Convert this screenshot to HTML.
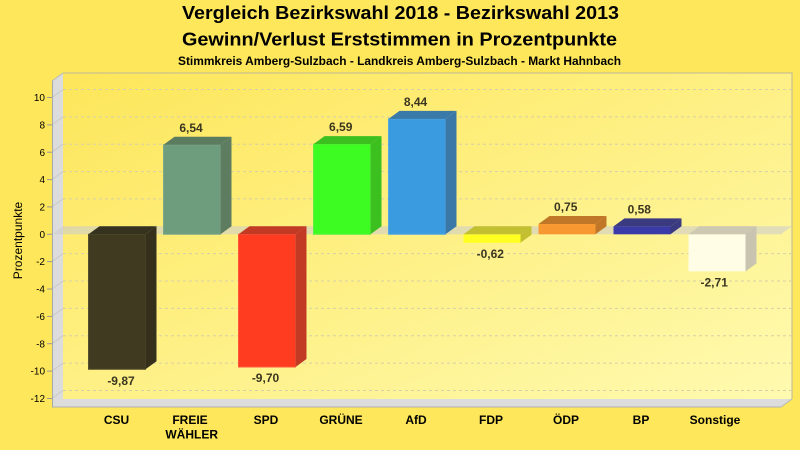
<!DOCTYPE html>
<html><head><meta charset="utf-8"><style>
html,body{margin:0;padding:0;background:#fee75a;}
svg{display:block;font-family:"Liberation Sans",Arial,sans-serif;}
</style></head><body>
<svg width="800" height="450" viewBox="0 0 800 450" xmlns="http://www.w3.org/2000/svg">
<defs>
<linearGradient id="wall" x1="0" y1="0" x2="1" y2="1">
<stop offset="0" stop-color="#fde65a"/>
<stop offset="1" stop-color="#fffab0"/>
</linearGradient>
</defs>
<rect x="0" y="0" width="800" height="450" fill="#fee75a"/>
<!-- titles -->
<text x="400.5" y="19" text-anchor="middle" font-weight="bold" font-size="18.5" textLength="437" lengthAdjust="spacingAndGlyphs" fill="#000">Vergleich Bezirkswahl 2018 - Bezirkswahl 2013</text>
<text x="399.5" y="45.5" text-anchor="middle" font-weight="bold" font-size="18.5" textLength="435" lengthAdjust="spacingAndGlyphs" fill="#000">Gewinn/Verlust Erststimmen in Prozentpunkte</text>
<text x="399.5" y="65" text-anchor="middle" font-weight="bold" font-size="11.5" textLength="443" lengthAdjust="spacingAndGlyphs" fill="#000">Stimmkreis Amberg-Sulzbach - Landkreis Amberg-Sulzbach - Markt Hahnbach</text>

<!-- back wall -->
<rect x="63" y="73" width="729" height="326" fill="url(#wall)"/>
<polyline points="63,73 792,73 792,399" fill="none" stroke="#bdb89a" stroke-width="1"/>
<!-- gridlines on back wall -->
<g stroke="#d6d0a8" stroke-width="1" stroke-dasharray="3,3">
<line x1="63" y1="89.5" x2="792" y2="89.5"/>
<line x1="63" y1="116.9" x2="792" y2="116.9"/>
<line x1="63" y1="144.2" x2="792" y2="144.2"/>
<line x1="63" y1="171.6" x2="792" y2="171.6"/>
<line x1="63" y1="198.9" x2="792" y2="198.9"/>
<line x1="63" y1="253.6" x2="792" y2="253.6"/>
<line x1="63" y1="281.0" x2="792" y2="281.0"/>
<line x1="63" y1="308.4" x2="792" y2="308.4"/>
<line x1="63" y1="335.7" x2="792" y2="335.7"/>
<line x1="63" y1="363.1" x2="792" y2="363.1"/>
<line x1="63" y1="390.5" x2="792" y2="390.5"/>
</g>
<!-- left wall -->
<polygon points="52,81 63,73 63,399 52,407" fill="#dcdcdc"/>
<g stroke="#c8c8c8" stroke-width="1">
<line x1="52" y1="97.5" x2="63" y2="89.5"/>
<line x1="52" y1="124.9" x2="63" y2="116.9"/>
<line x1="52" y1="152.2" x2="63" y2="144.2"/>
<line x1="52" y1="179.6" x2="63" y2="171.6"/>
<line x1="52" y1="206.9" x2="63" y2="198.9"/>
<line x1="52" y1="261.6" x2="63" y2="253.6"/>
<line x1="52" y1="289.0" x2="63" y2="281.0"/>
<line x1="52" y1="316.4" x2="63" y2="308.4"/>
<line x1="52" y1="343.7" x2="63" y2="335.7"/>
<line x1="52" y1="371.1" x2="63" y2="363.1"/>
<line x1="52" y1="398.5" x2="63" y2="390.5"/>
</g>
<line x1="52.5" y1="81" x2="52.5" y2="407" stroke="#a8a8a8" stroke-width="1"/>
<line x1="52" y1="81" x2="63" y2="73" stroke="#b8b8b8" stroke-width="1"/>
<!-- floor -->
<polygon points="52,407 63,399 792,399 781,407" fill="#dcdcdc"/>
<line x1="52" y1="407" x2="781" y2="407" stroke="#b0b0b0" stroke-width="1"/>
<line x1="781" y1="407" x2="792" y2="399" stroke="#b8b8b8" stroke-width="1"/>
<!-- ticks -->
<g stroke="#999" stroke-width="1">
<line x1="47" y1="97.5" x2="52" y2="97.5"/>
<line x1="47" y1="124.9" x2="52" y2="124.9"/>
<line x1="47" y1="152.2" x2="52" y2="152.2"/>
<line x1="47" y1="179.6" x2="52" y2="179.6"/>
<line x1="47" y1="206.9" x2="52" y2="206.9"/>
<line x1="47" y1="234.3" x2="52" y2="234.3"/>
<line x1="47" y1="261.6" x2="52" y2="261.6"/>
<line x1="47" y1="289.0" x2="52" y2="289.0"/>
<line x1="47" y1="316.4" x2="52" y2="316.4"/>
<line x1="47" y1="343.7" x2="52" y2="343.7"/>
<line x1="47" y1="371.1" x2="52" y2="371.1"/>
<line x1="47" y1="398.5" x2="52" y2="398.5"/>
</g>
<!-- y tick labels -->
<g font-size="10" text-anchor="end" fill="#000">
<text x="45" y="101.1">10</text>
<text x="45" y="128.5">8</text>
<text x="45" y="155.8">6</text>
<text x="45" y="183.2">4</text>
<text x="45" y="210.5">2</text>
<text x="45" y="237.9">0</text>
<text x="45" y="265.2">-2</text>
<text x="45" y="292.6">-4</text>
<text x="45" y="320.0">-6</text>
<text x="45" y="347.3">-8</text>
<text x="45" y="374.7">-10</text>
<text x="45" y="402.1">-12</text>
</g>
<text transform="translate(22,240.5) rotate(-90)" text-anchor="middle" font-size="12" fill="#000">Prozentpunkte</text>

<!-- zero plane -->
<polygon points="52,234.3 63,226.3 792,226.3 781,234.3" fill="rgba(205,205,205,0.6)"/>

<!-- bars -->
<!-- CSU -->
<rect x="88.5" y="234.3" width="57" height="135" fill="#403a20" stroke="#56502e" stroke-width="1"/>
<polygon points="88.5,234.3 99.5,226.3 156.5,226.3 145.5,234.3" fill="#35321f"/>
<polygon points="145.5,234.3 156.5,226.3 156.5,361.3 145.5,369.3" fill="#35301c"/>
<!-- FW -->
<rect x="163.5" y="144.8" width="57" height="89.5" fill="#6e9d7d" stroke="#7fa88a" stroke-width="1"/>
<polygon points="163.5,144.8 174.5,136.8 231.5,136.8 220.5,144.8" fill="#5c7c60"/>
<polygon points="220.5,144.8 231.5,136.8 231.5,226.3 220.5,234.3" fill="#5e7c60"/>
<!-- SPD -->
<rect x="238.5" y="234.3" width="57" height="132.7" fill="#ff3c20" stroke="#ff5a40" stroke-width="1"/>
<polygon points="238.5,234.3 249.5,226.3 306.5,226.3 295.5,234.3" fill="#c23a24"/>
<polygon points="295.5,234.3 306.5,226.3 306.5,359 295.5,367" fill="#c23a24"/>
<!-- GRUENE -->
<rect x="313.5" y="144.15" width="57" height="90.15" fill="#3cfc22" stroke="#5cf040" stroke-width="1"/>
<polygon points="313.5,144.15 324.5,136.15 381.5,136.15 370.5,144.15" fill="#3cc020"/>
<polygon points="370.5,144.15 381.5,136.15 381.5,226.3 370.5,234.3" fill="#3cc020"/>
<!-- AfD -->
<rect x="388.5" y="118.84" width="57" height="115.46" fill="#3a9be0" stroke="#56a8e0" stroke-width="1"/>
<polygon points="388.5,118.84 399.5,110.84 456.5,110.84 445.5,118.84" fill="#3a7aa8"/>
<polygon points="445.5,118.84 456.5,110.84 456.5,226.3 445.5,234.3" fill="#3a78a8"/>
<!-- FDP -->
<rect x="463.5" y="234.3" width="57" height="8.48" fill="#ffff22"/>
<polygon points="463.5,234.3 474.5,226.3 531.5,226.3 520.5,234.3" fill="#c2c030"/>
<polygon points="520.5,234.3 531.5,226.3 531.5,234.78 520.5,242.78" fill="#c2c030"/>
<!-- ÖDP -->
<rect x="538.5" y="224.04" width="57" height="10.26" fill="#f89830"/>
<polygon points="538.5,224.04 549.5,216.04 606.5,216.04 595.5,224.04" fill="#c07828"/>
<polygon points="595.5,224.04 606.5,216.04 606.5,226.3 595.5,234.3" fill="#c07828"/>
<!-- BP -->
<rect x="613.5" y="226.37" width="57" height="7.93" fill="#3a3aa8"/>
<polygon points="613.5,226.37 624.5,218.37 681.5,218.37 670.5,226.37" fill="#3a3a80"/>
<polygon points="670.5,226.37 681.5,218.37 681.5,226.3 670.5,234.3" fill="#3a3a80"/>
<!-- Sonstige -->
<rect x="688.5" y="234.3" width="57" height="37.07" fill="#fffde6"/>
<polygon points="688.5,234.3 699.5,226.3 756.5,226.3 745.5,234.3" fill="#ccc8b2"/>
<polygon points="745.5,234.3 756.5,226.3 756.5,263.37 745.5,271.37" fill="#c8c4b0"/>

<!-- value labels -->
<g font-size="12" font-weight="bold" text-anchor="middle" fill="#3a3620">
<text x="191" y="131.8">6,54</text>
<text x="121" y="385">-9,87</text>
<text x="265.5" y="382">-9,70</text>
<text x="340.7" y="131.2">6,59</text>
<text x="415.5" y="105.8">8,44</text>
<text x="490.3" y="257.8">-0,62</text>
<text x="565.7" y="211">0,75</text>
<text x="639.3" y="213.4">0,58</text>
<text x="714.2" y="286.4">-2,71</text>
</g>

<!-- x labels -->
<g font-size="12" font-weight="bold" text-anchor="middle" fill="#000">
<text x="116.5" y="424">CSU</text>
<text x="190" y="424">FREIE</text>
<text x="191.7" y="438.5">WÄHLER</text>
<text x="266" y="424">SPD</text>
<text x="341" y="424">GRÜNE</text>
<text x="416" y="424">AfD</text>
<text x="491" y="424">FDP</text>
<text x="566" y="424">ÖDP</text>
<text x="641" y="424">BP</text>
<text x="715" y="424">Sonstige</text>
</g>
</svg>
</body></html>
